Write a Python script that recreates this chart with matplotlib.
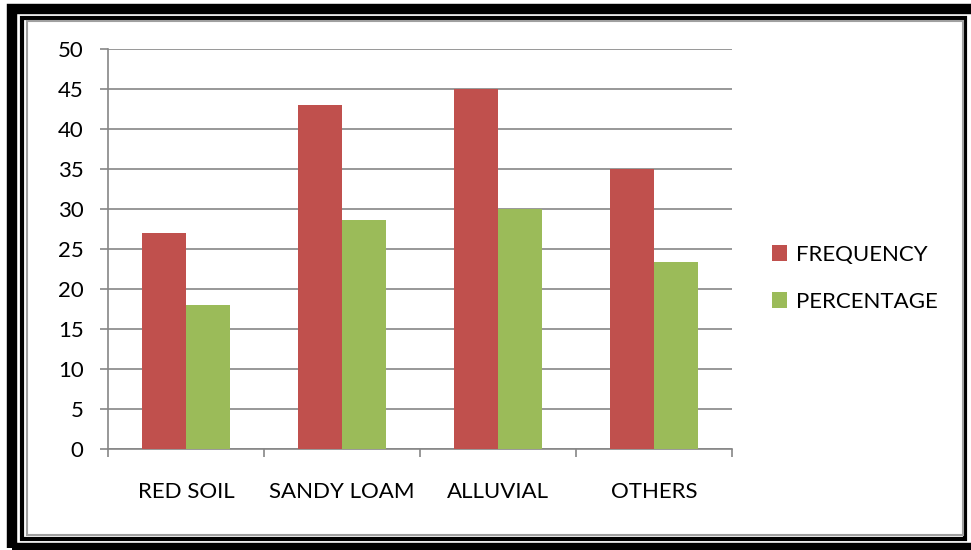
import matplotlib
matplotlib.use("Agg")
from matplotlib import pyplot as plt
from matplotlib.patches import Rectangle
import numpy as np

categories = ["RED SOIL", "SANDY LOAM", "ALLUVIAL", "OTHERS"]
frequency = [27, 43, 45, 35]
percentage = [18, 28.67, 30, 23.33]
series_names = ["FREQUENCY", "PERCENTAGE"]
colors = ["#C0504D", "#9BBB59"]
grid_col = "#868686"

plt.rcParams['font.family'] = ['Lato', 'DejaVu Sans']

W, H = 971, 550
fig = plt.figure(figsize=(W / 100, H / 100), dpi=100)

# frames (pixel coords -> figure fraction)
def box(x0, y0, x1, y1, lw, col):
    fig.patches.append(Rectangle((x0 / W, 1 - y1 / H), (x1 - x0) / W, (y1 - y0) / H,
                                 transform=fig.transFigure, fill=False,
                                 linewidth=lw, edgecolor=col, zorder=0))

box(12, 9, 975, 547.5, 7.5, "black")
box(22, 18, 965, 538.5, 3, "black")
box(27, 21, 963, 535, 1.5, "#A0A0A0")

# axes: x 108..732, y 49..449
ax = fig.add_axes([108 / W, 1 - 449 / H, 624 / W, 400 / H])
x = np.arange(len(categories))
bw = 0.282
ax.bar(x - bw / 2, frequency, bw, color=colors[0], label=series_names[0], zorder=3)
ax.bar(x + bw / 2, percentage, bw, color=colors[1], label=series_names[1], zorder=3)

ax.set_xlim(-0.5, len(categories) - 0.5)
ax.set_ylim(0, 50)
ax.set_yticks(range(0, 51, 5))
ax.yaxis.grid(True, color=grid_col, linewidth=1.2, zorder=0)
ax.set_xticks(np.arange(-0.5, len(categories)), minor=False)
ax.set_xticklabels([])
ax.set_xticks(x, minor=True)
ax.set_xticklabels(categories, minor=True)
ax.tick_params(axis='x', which='minor', length=0, pad=24, labelsize=16)
ax.tick_params(axis='x', which='major', length=5.5, color=grid_col, width=1.2)
ax.tick_params(axis='y', length=5.5, color=grid_col, width=1.2, labelsize=16, pad=12)
for s in ["top", "right"]:
    ax.spines[s].set_visible(False)
for s in ["left", "bottom"]:
    ax.spines[s].set_color(grid_col)
    ax.spines[s].set_linewidth(1.2)

fig.legend(loc="upper left", bbox_to_anchor=(763 / W, 1 - 236 / H), frameon=False,
           fontsize=16, handlelength=0.7, handleheight=0.7, handletextpad=0.4,
           labelspacing=1.2, borderaxespad=0)

plt.savefig("out.png", dpi=100)
